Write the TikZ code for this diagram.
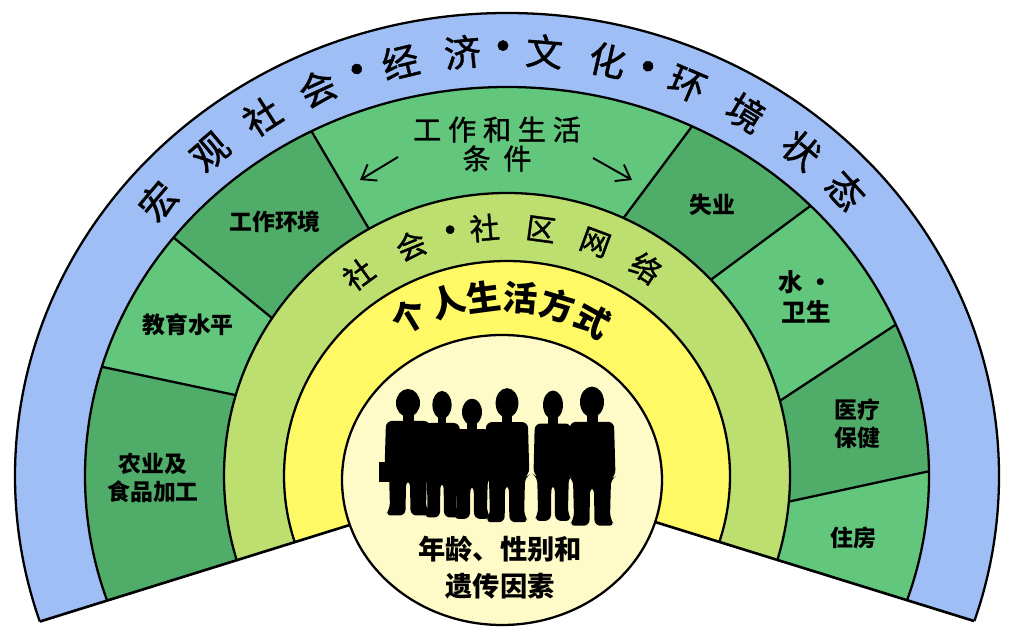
\documentclass[tikz,border=0pt]{standalone}
\usepackage{fontspec}
\setmainfont{Noto Sans CJK SC}
\newfontfamily\arcfont[FakeBold=1.2]{Noto Sans CJK SC}
\usetikzlibrary{calc,arrows.meta}
\definecolor{macroblue}{HTML}{9EBEF5}
\definecolor{sectorlight}{HTML}{62C67C}
\definecolor{sectordark}{HTML}{50AD69}
\definecolor{socialgreen}{HTML}{BCDF6F}
\definecolor{lifeyellow}{HTML}{FFF966}
\definecolor{corecream}{HTML}{FFFBC8}
\tikzset{
  band line/.style={line width=1.3pt},
  edge line/.style={line width=1.5pt},
  macro char/.style={inner sep=0pt, font=\arcfont\fontsize{21}{21}\selectfont},
  social char/.style={inner sep=0pt, font=\arcfont\fontsize{17}{17}\selectfont},
  life char/.style={inner sep=0pt, font=\bfseries\fontsize{19.5}{20}\selectfont},
  sector label/.style={inner sep=0pt, align=center, font=\bfseries\fontsize{13}{16}\selectfont},
  cond label/.style={inner sep=0pt, align=center, font=\arcfont\fontsize{16}{16.5}\selectfont},
  core label/.style={inner sep=0pt, align=center, font=\bfseries\fontsize{15.5}{21}\selectfont},
  cond arrow/.style={line width=1.1pt, -{Straight Barb[length=2.6mm,width=3.8mm]}},
  person/.pic={
    \fill (0,0) ellipse (0.24 and 0.28);
    \fill (-0.11,-0.15) rectangle (0.11,-0.42);
    \fill[rounded corners=0.12cm] (-0.44,-0.36) -- (0.44,-0.36) -- (0.47,-1.35)
      -- (0.38,-1.4) -- (0.36,-2.12) -- (0.46,-2.25) -- (0.05,-2.25) -- (0.04,-1.55)
      -- (-0.04,-1.55) -- (-0.05,-2.25) -- (-0.46,-2.25) -- (-0.36,-2.12)
      -- (-0.38,-1.4) -- (-0.47,-1.35) -- cycle;
  }
}
\begin{document}
\begin{tikzpicture}
\useasboundingbox (0,0) rectangle (20.44,12.76);
\coordinate (C) at (10.14,3.24);
\coordinate (L) at (0.80,0.33);
\coordinate (R) at (19.48,0.34);

% Bands of the fan
\begin{scope}
  \clip (C) -- ($(C)!1.2!(L)$) -- (-1.1,13.5) -- (21.5,13.5) -- ($(C)!1.2!(R)$) -- cycle;
  \fill[macroblue] (C) ellipse (9.84 and 9.26);
  \fill[sectorlight] (C) ellipse (8.44 and 7.78);

  % Darker sectors
  \fill[sectordark] ($(C)+(163.4:5.66)$) -- ($(C)+(163.7:8.44 and 7.78)$)
    arc[start angle=163.7, end angle=215, x radius=8.44, y radius=7.78] -- (C) -- cycle;
  \fill[sectordark] ($(C)+(146.1:5.66)$) -- ($(C)+(142.2:8.44 and 7.78)$)
    arc[start angle=142.2, end angle=117.6, x radius=8.44, y radius=7.78] -- ($(C)+(119.2:5.66)$) -- cycle;
  \fill[sectordark] ($(C)+(65.7:5.66)$) -- ($(C)+(64.0:8.44 and 7.78)$)
    arc[start angle=64.0, end angle=44.0, x radius=8.44, y radius=7.78] -- ($(C)+(43.9:5.66)$) -- cycle;
  \fill[sectordark] ($(C)+(15.4:5.66)$) -- ($(C)+(22.9:8.44 and 7.78)$)
    arc[start angle=22.9, end angle=0.7, x radius=8.44, y radius=7.78] -- ($(C)+(-5.2:5.66)$) -- cycle;

  % Sector dividers
  \foreach \a/\b in {163.7/163.4, 142.2/146.1, 117.6/119.2, 64.0/65.7, 44.0/43.9, 22.9/15.4, 0.7/-5.2}
    \draw[band line] ($(C)+(\a:8.44 and 7.78)$) -- ($(C)+(\b:5.66)$);

  \filldraw[band line, fill=socialgreen] (C) circle (5.66);
  \filldraw[band line, fill=lifeyellow] (C) ellipse (4.46 and 4.30);
  \draw[band line] (C) ellipse (9.84 and 9.26);
  \draw[band line] (C) ellipse (8.44 and 7.78);
\end{scope}

% Fan edges
\draw[edge line] (L) -- (C);
\draw[edge line] (R) -- (C);

% Core circle
\filldraw[band line, fill=corecream] (10.04,3.16) ellipse (3.20 and 2.90);

% Text along the outer band
\foreach \t/\c [count=\i] in {139.8/宏, 130.5/观, 122.4/社, 114.5/会, 109.0/{\bfseries ·}, 103.5/经, 95.6/济, 90.5/{\bfseries ·},
    85.3/文, 77.3/化, 72.2/{\bfseries ·}, 66.8/环, 58.5/境, 49.9/状, 42.1/态}
  \node[macro char, rotate=\t-90] (macro\i) at ($(C)+(\t:9.14 and 8.52)$) {\c};

% Text along the social band
\foreach \t/\c [count=\i] in {125.9/社, 112.3/会, 102.8/{\bfseries ·}, 95.1/社, 82.3/区, 69.6/网, 56.7/络}
  \node[social char, rotate=\t-90] (social\i) at ($(C)+(\t:5.06 and 4.98)$) {\c};

% Text along the life band
\foreach \t/\r/\c [count=\i] in {121.5/3.74/个, 109/3.68/人, 97.5/3.62/生, 85.5/3.58/活, 73.5/3.56/方, 61/3.56/式}
  \node[life char, rotate=\t-90] (life\i) at ($(C)+(\t:\r)$) {\c};

% Sector labels
\node[cond label] (cond) at (9.94,9.88) {{\addfontfeature{LetterSpace=24}工作和生活}\\{\addfontfeature{LetterSpace=45}条件}};
\coordinate (condL1) at (7.96,9.62);
\coordinate (condL2) at (7.20,9.16);
\coordinate (condR1) at (11.86,9.60);
\coordinate (condR2) at (12.64,9.16);
\draw[cond arrow] (condL1) -- (condL2);
\draw[cond arrow] (condR1) -- (condR2);
\node[sector label] (work) at (5.50,8.32) {工作环境};
\node[sector label] (edu) at (3.76,6.26) {教育水平};
\node[sector label] (agri) at (3.06,3.20) {农业及\\食品加工};
\node[sector label] (unemp) at (14.24,8.66) {失业};
\node[sector label, font=\bfseries\fontsize{14}{17}\selectfont] (water) at (16.12,6.82) {水 ·\\卫生};
\node[sector label] (health) at (17.14,4.28) {医疗\\保健};
\node[sector label] (house) at (17.06,2.00) {住房};

% People in the core
\foreach \x/\y/\sx/\sy in {8.16/4.70/1.0/1.0, 8.84/4.66/0.8/1.0, 9.44/4.52/0.83/0.95,
    10.14/4.70/0.95/1.06, 11.06/4.66/0.83/1.03, 11.84/4.72/1.0/1.1}
  \pic[xscale=\sx, yscale=\sy] at (\x,\y) {person};
\fill (7.58,3.12) rectangle (7.82,3.52);
\node[core label] (genes) at (10.00,1.40) {年龄、性别和\\遗传因素};
\end{tikzpicture}
\end{document}
